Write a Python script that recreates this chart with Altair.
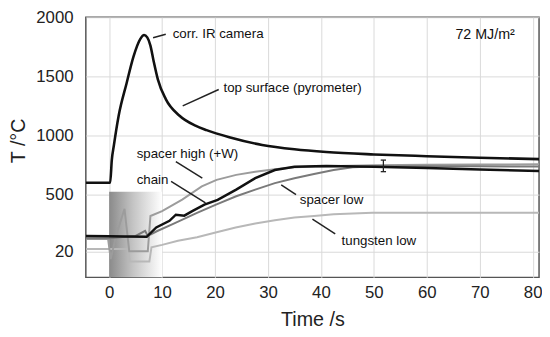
import altair as alt
import pandas as pd

# ---- data ----
t_top = [-4.4, 0.2, 0.5, 0.9, 1.8, 3.3, 4.6, 5.9, 6.6, 7.2, 7.8, 8.4, 9.2, 10.7, 13.3, 16.3, 18.4, 22.7, 28.9, 35, 41, 50, 60, 70, 81.2]
T_top = [600, 600, 790, 917, 1167, 1442, 1667, 1817, 1850, 1830, 1760, 1630, 1475, 1308, 1167, 1083, 1045, 985, 920, 883, 860, 840, 825, 812, 800]

t_chain = [-4.4, 0, 3, 7.1, 8.9, 11.4, 12.6, 14.2, 15.7, 18, 20.5, 24, 27.6, 31.3, 35, 41, 50, 60, 70, 81.2]
T_chain = [150, 148, 145, 143, 222, 278, 330, 322, 360, 415, 455, 542, 639, 708, 736, 742, 736, 725, 712, 700]

t_shigh = [-4.4, -0.2, 0.3, 1.3, 2.9, 3.8, 7.3, 7.8, 10, 13.8, 17.5, 20.3, 24, 27.6, 31.3, 35, 41, 50, 60, 70, 81.2]
T_shigh = [125, 125, -45, 150, 380, 20, 20, 319, 361, 458, 569, 625, 667, 694, 714, 731, 740, 748, 752, 755, 756]

t_slow = [-4.4, 0, 2, 5, 6.8, 7.3, 9, 12, 16.6, 20.3, 24, 27.6, 31.3, 35, 38.7, 42.4, 46, 50, 60, 70, 81.2]
T_slow = [130, 130, 140, 150, 194, 150, 190, 250, 345, 417, 486, 542, 597, 639, 675, 708, 731, 738, 740, 739, 738]

t_tung = [-4.4, -0.2, 3.6, 3.9, 7.6, 8.0, 10, 13, 16.6, 20.3, 23.9, 27.6, 31.3, 35, 38.7, 42.4, 49.7, 60, 70, 81.2]
T_tung = [40, 40, 40, -65, -65, 55, 75, 110, 139, 181, 222, 256, 283, 306, 319, 333, 347, 347, 347, 347]

series_names = ["tungsten low", "spacer high (+W)", "spacer low", "chain", "top surface"]
series_t = [t_tung, t_shigh, t_slow, t_chain, t_top]
series_T = [T_tung, T_shigh, T_slow, T_chain, T_top]
series_color = ["#b8b8b8", "#9c9c9c", "#7a7a7a", "#111111", "#111111"]
series_width = [2, 2, 2, 2.5, 2.6]
series_interp = ["linear", "linear", "linear", "linear", "monotone"]

# heating pulse box
box_t = [0]
box_t2 = [10]
box_T = [-200]
box_T2 = [525]

# error bar
err_t = [51.8]
err_lo = [694]
err_hi = [792]
err_cap = [0.5]

# annotations
ann_text = ["corr. IR camera", "top surface (pyrometer)", "spacer high (+W)", "chain", "spacer low", "tungsten low", "72 MJ/m²"]
ann_t = [12.0, 21.6, 5.2, 5.2, 36.0, 43.9, 65.4]
ann_T = [1860, 1397, 847, 619, 458, 111, 1850]
ann_size = [13.5, 13.5, 13.5, 13.5, 13.5, 13.5, 14.5]

lead_t1 = [8.3, 13.9, 12.6, 11.7, 32.5, 38.4]
lead_T1 = [1827, 1250, 778, 611, 583, 292]
lead_t2 = [10.7, 20.7, 17.6, 18.2, 35.3, 42.7]
lead_T2 = [1856, 1389, 639, 431, 500, 167]

x_ticks = [0, 10, 20, 30, 40, 50, 60, 70, 80]
y_ticks = [20, 500, 1000, 1500, 2000]
x_domain = [-4.4, 81.2]
y_domain = [-200, 2000]

FONT = "Liberation Sans"

xs = alt.Scale(domain=x_domain, nice=False, zero=False)
ys = alt.Scale(domain=y_domain, nice=False, zero=False)

x_axis = alt.Axis(values=x_ticks, format="d", title="Time /s", grid=True, gridColor="#d9d9d9", gridWidth=1,
                  ticks=False, tickSize=0, domain=False, labelPadding=7, labelFont=FONT,
                  labelFontSize=17, labelColor="#222", titleFont=FONT, titleFontSize=20,
                  titleFontWeight="normal", titleColor="#222", titleBaseline="middle", titleY=43)
y_axis = alt.Axis(values=y_ticks, format="d", title="T /°C", grid=True, gridColor="#d9d9d9", gridWidth=1,
                  ticks=False, tickSize=0, domain=False, labelPadding=13, labelFont=FONT,
                  labelFontSize=17, labelColor="#222", titleFont=FONT, titleFontSize=20,
                  titleFontWeight="normal", titleColor="#222", titleAngle=270,
                  titleBaseline="middle", titleAlign="center", titleX=-68, titleY=125)

box_df = pd.DataFrame({"t": box_t, "t2": box_t2, "T": box_T, "T2": box_T2})
grad = alt.LinearGradient(gradient="linear",
                          stops=[alt.GradientStop(color="#8a8a8a", offset=0),
                                 alt.GradientStop(color="#c4c4c4", offset=0.45),
                                 alt.GradientStop(color="#ffffff", offset=1)],
                          x1=0, x2=1, y1=0, y2=0)
box = alt.Chart(box_df).mark_rect(fill=grad, opacity=1).encode(
    x=alt.X("t:Q", scale=xs, axis=x_axis),
    x2="t2:Q",
    y=alt.Y("T:Q", scale=ys, axis=y_axis),
    y2="T2:Q",
)

layers = [box]
for name, tt, TT, col, w, ip in zip(series_names, series_t, series_T, series_color, series_width, series_interp):
    df = pd.DataFrame({"t": tt, "T": TT, "i": list(range(len(tt)))})
    layers.append(alt.Chart(df).mark_line(color=col, strokeWidth=w, clip=True, interpolate=ip).encode(
        x=alt.X("t:Q", scale=xs), y=alt.Y("T:Q", scale=ys), order="i:Q"))

err_df = pd.DataFrame({"t": err_t, "lo": err_lo, "hi": err_hi,
                       "ta": [a - c for a, c in zip(err_t, err_cap)],
                       "tb": [a + c for a, c in zip(err_t, err_cap)]})
layers.append(alt.Chart(err_df).mark_rule(color="#222", strokeWidth=1.3).encode(
    x=alt.X("t:Q", scale=xs), y=alt.Y("lo:Q", scale=ys), y2="hi:Q"))
layers.append(alt.Chart(err_df).mark_rule(color="#222", strokeWidth=1.3).encode(
    x=alt.X("ta:Q", scale=xs), x2="tb:Q", y=alt.Y("lo:Q", scale=ys)))
layers.append(alt.Chart(err_df).mark_rule(color="#222", strokeWidth=1.3).encode(
    x=alt.X("ta:Q", scale=xs), x2="tb:Q", y=alt.Y("hi:Q", scale=ys)))

lead_df = pd.DataFrame({"t1": lead_t1, "T1": lead_T1, "t2": lead_t2, "T2": lead_T2})
layers.append(alt.Chart(lead_df).mark_rule(color="#222", strokeWidth=1.5).encode(
    x=alt.X("t1:Q", scale=xs), y=alt.Y("T1:Q", scale=ys), x2="t2:Q", y2="T2:Q"))

ann_df = pd.DataFrame({"label": ann_text, "t": ann_t, "T": ann_T, "s": ann_size})
layers.append(alt.Chart(ann_df).mark_text(align="left", baseline="middle", font=FONT,
                                          color="#111").encode(
    x=alt.X("t:Q", scale=xs), y=alt.Y("T:Q", scale=ys), text="label:N",
    size=alt.Size("s:Q", scale=None, legend=None)))

chart = alt.layer(*layers).properties(
    width=460, height=264,
    autosize=alt.AutoSizeParams(type="none"),
    padding={"left": 79, "top": 7, "right": 3, "bottom": 50},
    background="white",
).configure_view(stroke="#555555", strokeWidth=1.5)

chart.save("out.html", embed_options={"renderer": "svg", "actions": False})
